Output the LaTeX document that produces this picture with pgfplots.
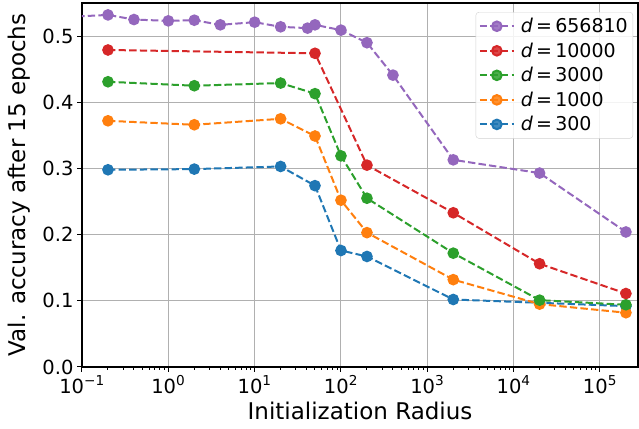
\documentclass[border=0pt]{standalone}
\usepackage{fontspec}
\setmainfont{DejaVu Sans}
\usepackage{pgfplots}
\pgfplotsset{compat=1.18}
\definecolor{tblue}{HTML}{1F77B4}
\definecolor{torange}{HTML}{FF7F0E}
\definecolor{tgreen}{HTML}{2CA02C}
\definecolor{tred}{HTML}{D62728}
\definecolor{tpurple}{HTML}{9467BD}
\begin{document}
\begin{tikzpicture}
\begin{axis}[
  name=ax,
  scale only axis,
  width=556pt, height=364pt,
  xmode=log,
  xmin=0.1, xmax=2.76e5,
  ymin=0, ymax=0.55,
  xtick={0.1,1,10,100,1000,10000,100000},
  xticklabels={10\textsuperscript{−1},10\textsuperscript{0},10\textsuperscript{1},10\textsuperscript{2},10\textsuperscript{3},10\textsuperscript{4},10\textsuperscript{5}},
  ytick={0,0.1,0.2,0.3,0.4,0.5},
  yticklabel style={/pgf/number format/fixed,/pgf/number format/fixed zerofill,/pgf/number format/precision=1},
  /pgf/number format/assume math mode=true,
  tick label style={font=\fontsize{19.5}{22}\selectfont},
  label style={font=\fontsize{23}{26}\selectfont},
  xlabel={Initialization Radius},
  ylabel={Val. accuracy after 15 epochs},
  xlabel style={at={(axis description cs:0.5,-0.121)}, anchor=center},
  ylabel style={at={(axis description cs:-0.113,0.5)}, anchor=center},
  grid=major,
  major grid style={gray!62, line width=1.05pt},
  tick align=outside,
  xtick pos=bottom, ytick pos=left,
  major tick length=5pt, minor tick length=3pt,
  axis line style={line width=1.1pt},
  every tick/.style={black, line width=1pt},
  every axis plot/.append style={dashed, dash pattern=on 7.4pt off 3.2pt, line width=2pt, mark=*, mark size=4.8pt, mark options={solid}},
  reverse legend,
  legend style={at={(0.991,0.975)}, anchor=north east, font=\fontsize{19}{22}\selectfont, draw=gray!35, rounded corners=3pt, fill=white, fill opacity=0.85, text opacity=1, row sep=4.6pt, column sep=4pt, inner xsep=3pt, inner ysep=4pt},
  legend cell align=left,
  legend image code/.code={\draw[mark repeat=2,mark phase=2,#1] plot coordinates {(0pt,0pt) (17pt,0pt) (34pt,0pt)};},
]
\addplot[color=tblue] coordinates {(0.2,0.298) (2,0.299) (20,0.303) (50,0.274) (100,0.176) (200,0.167) (2000,0.102) (20000,0.097) (200000,0.092)};
\addplot[color=torange] coordinates {(0.2,0.372) (2,0.366) (20,0.375) (50,0.349) (100,0.252) (200,0.203) (2000,0.132) (20000,0.095) (200000,0.082)};
\addplot[color=tgreen] coordinates {(0.2,0.431) (2,0.425) (20,0.429) (50,0.413) (100,0.319) (200,0.255) (2000,0.172) (20000,0.101) (200000,0.094)};
\addplot[color=tred] coordinates {(0.2,0.479) (50,0.474) (200,0.305) (2000,0.233) (20000,0.156) (200000,0.111)};
\addplot[color=tpurple] coordinates {(0.05,0.528) (0.2,0.532) (0.4,0.525) (1,0.523) (2,0.524) (4,0.517) (10,0.521) (20,0.514) (41,0.512) (50,0.517) (100,0.509) (200,0.490) (400,0.441) (2000,0.313) (20000,0.293) (200000,0.204)};
\legend{\textit{d}\,=\,300,\textit{d}\,=\,1000,\textit{d}\,=\,3000,\textit{d}\,=\,10000,\textit{d}\,=\,656810}
\end{axis}
\pgfresetboundingbox
\path[use as bounding box] ([xshift=-82pt,yshift=-62pt]ax.south west) rectangle ([xshift=1pt,yshift=3pt]ax.north east);
\end{tikzpicture}
\end{document}
